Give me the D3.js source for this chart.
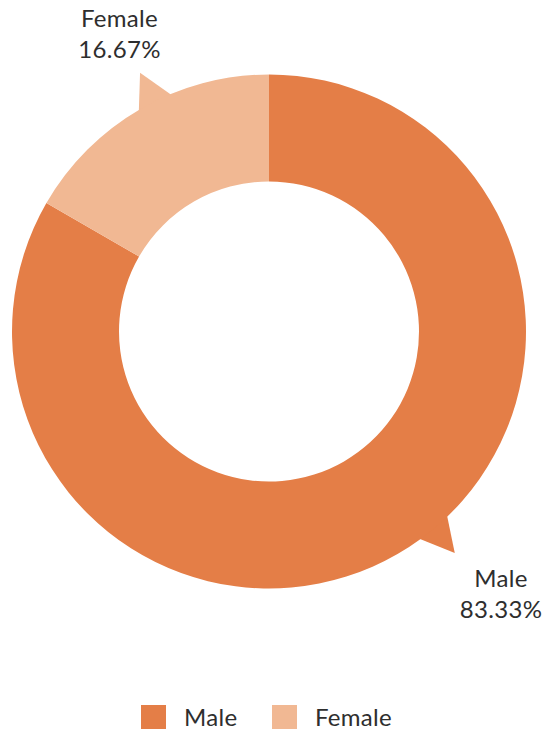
<!DOCTYPE html>
<html>
<head>
<meta charset="utf-8">
<script src="https://cdn.jsdelivr.net/npm/d3@7"></script>
<style>
  html, body { margin: 0; padding: 0; background: #ffffff; }
  svg { display: block; }
</style>
</head>
<body>
<div id="chart"></div>
<script>
// Gender split of respondents
const categories = ["Male", "Female"];
const shares = [83.33, 16.67];
const colors = ["#E47E47", "#F1B893"];

const width = 548, height = 732;
const cx = 269, cy = 331.5;
const outerR = 257, innerR = 150;
const font = "Lato, 'Open Sans', sans-serif";
const textColor = "#2e2e2e";

// label anchor positions (relative to the donut centre) and callout-tail directions (degrees)
const labelOffsets = [[232, 255], [-149.5, -305]];
const tailAngles = [140, -26.5];

const svg = d3.select("#chart").append("svg")
  .attr("width", width).attr("height", height);

const data = categories.map((c, i) => ({ name: c, value: shares[i], color: colors[i], off: labelOffsets[i], tail: tailAngles[i] }));

const pie = d3.pie().sort(null).value(d => d.value).startAngle(0).endAngle(2 * Math.PI);
const arc = d3.arc().innerRadius(innerR).outerRadius(outerR);
const arcs = pie(data);

const g = svg.append("g").attr("transform", `translate(${cx},${cy})`);

// callout tails pointing toward each label
const tailHalf = 4.2 * Math.PI / 180;
const tailR = 289;
const polar = (r, a) => [r * Math.sin(a), -r * Math.cos(a)];
g.selectAll("path.tail").data(arcs).enter().append("path")
  .attr("class", "tail")
  .attr("fill", d => d.data.color)
  .attr("d", d => {
    const a = d.data.tail * Math.PI / 180;
    const p1 = polar(outerR - 2, a - tailHalf);
    const p2 = polar(tailR, a);
    const p3 = polar(outerR - 2, a + tailHalf);
    return `M${p1}L${p2}L${p3}Z`;
  });

g.selectAll("path.slice").data(arcs).enter().append("path")
  .attr("class", "slice")
  .attr("fill", d => d.data.color)
  .attr("d", arc);

// slice labels
const fmt = d3.format(".2f");
const labels = g.selectAll("text.lbl").data(arcs).enter().append("text")
  .attr("class", "lbl")
  .attr("text-anchor", "middle")
  .attr("font-family", font)
  .attr("font-size", 24)
  .attr("letter-spacing", 0.3)
  .attr("fill", textColor)
  .attr("transform", d => `translate(${d.data.off[0]},${d.data.off[1]})`);
labels.append("tspan").attr("x", 0).attr("y", 0).text(d => d.data.name);
labels.append("tspan").attr("x", 0).attr("y", 31).text(d => fmt(d.data.value) + "%");

// legend
const legend = svg.append("g").attr("transform", "translate(141,705)");
const legendX = d3.scalePoint().domain(categories).range([0, 131]);
const items = legend.selectAll("g").data(data).enter().append("g")
  .attr("transform", d => `translate(${legendX(d.name)},0)`);
items.append("rect").attr("width", 25).attr("height", 24).attr("fill", d => d.color);
items.append("text").attr("x", 43).attr("y", 21)
  .attr("font-family", font).attr("font-size", 24).attr("letter-spacing", 0.3).attr("fill", textColor)
  .text(d => d.name);
</script>
</body>
</html>
